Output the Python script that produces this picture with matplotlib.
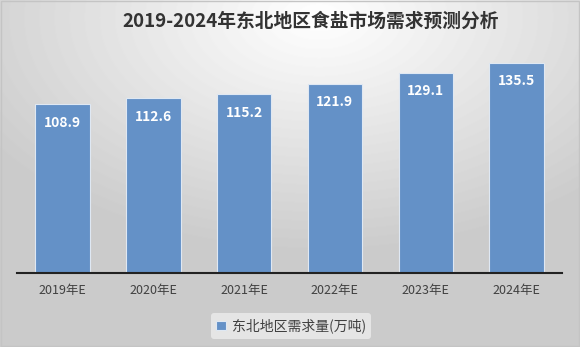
import numpy as np
import matplotlib.pyplot as plt

plt.rcParams["font.family"] = ["Noto Sans CJK SC", "DejaVu Sans"]

years = ["2019年E", "2020年E", "2021年E", "2022年E", "2023年E", "2024年E"]
demand = [108.9, 112.6, 115.2, 121.9, 129.1, 135.5]
series_name = "东北地区需求量(万吨)"
title = "2019-2024年东北地区食盐市场需求预测分析"

W, H = 586, 351
CW, CH = 580, 347  # visible chart area, white strip beyond
fig = plt.figure(figsize=(W / 100, H / 100), dpi=100, facecolor="white")

# radial grey background, lightest near the top middle
bg = fig.add_axes([0, 1 - CH / H, CW / W, CH / H], zorder=0)
yy, xx = np.mgrid[0:CH, 0:CW]
r = np.sqrt(((xx - CW * 0.55) / CW) ** 2 + ((yy - CH * 0.05) / CH) ** 2)
shade = np.clip(1.0 - 0.30 * r, 0.80, 1.0)
bg.imshow(shade, cmap="gray", vmin=0, vmax=1, aspect="auto",
          extent=[0, 1, 0, 1], origin="upper")
bg.add_patch(plt.Rectangle((0.002, 0.003), 0.996, 0.994, fill=False,
                           ec="#c4c4c4", lw=1.0, transform=bg.transAxes))
bg.axis("off")

ax = fig.add_axes([17 / W, 1 - 273 / H, 545 / W, 232 / H], zorder=1)
ax.patch.set_alpha(0)
x = np.arange(len(years))
bars = ax.bar(x, demand, width=0.6, color="#6491c7", edgecolor="#dfe8f3",
              linewidth=0.8, label=series_name)
for b, v in zip(bars, demand):
    ax.text(b.get_x() + b.get_width() / 2, v - 7.5, f"{v:.1f}", ha="center",
            va="top", color="white", fontsize=10, fontweight="bold")

ax.set_xlim(-0.5, len(years) - 0.5)
ax.set_ylim(0, 232 / 1.552)
ax.set_xticks(x)
ax.set_xticklabels(years, fontsize=9, color="#404040")
ax.tick_params(axis="x", length=0, pad=8)
ax.set_yticks([])
for s in ["top", "left", "right"]:
    ax.spines[s].set_visible(False)
ax.spines["bottom"].set_color("#222222")
ax.spines["bottom"].set_linewidth(1.5)

fig.text(311 / W, 1 - 21 / H, title, ha="center", va="center", fontsize=13.5,
         fontweight="bold", color="#333333")

leg = fig.legend(loc="center", bbox_to_anchor=(291 / W, 1 - 326 / H), fontsize=10,
                 frameon=True, handlelength=0.7, handleheight=0.7,
                 handletextpad=0.4, borderpad=0.4)
leg.get_frame().set_facecolor("#e8e8e8")
leg.get_frame().set_edgecolor("none")
leg.get_frame().set_alpha(0.9)
for t in leg.get_texts():
    t.set_color("#404040")

fig.savefig("out.png", dpi=100, facecolor="white")
